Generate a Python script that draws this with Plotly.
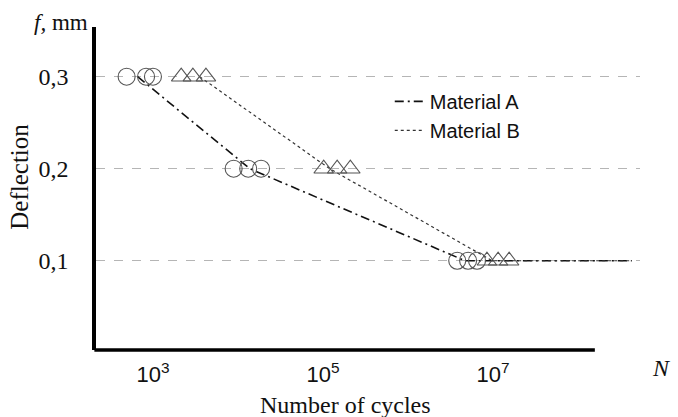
import plotly.graph_objects as go

# ---- data ----
a_cycles = [490, 830, 1000, 8900, 13200, 18700, 3.8e6, 5.1e6, 6.5e6]
a_defl = [0.3, 0.3, 0.3, 0.2, 0.2, 0.2, 0.1, 0.1, 0.1]
b_cycles = [2150, 2950, 4200, 1.02e5, 1.47e5, 2.1e5, 8.5e6, 1.15e7, 1.55e7]
b_defl = [0.3, 0.3, 0.3, 0.2, 0.2, 0.2, 0.1, 0.1, 0.1]
a_curve_N = [660, 13800, 4.7e6, 4.3e8]
a_curve_f = [0.3, 0.2, 0.1, 0.1]
b_curve_N = [3550, 1.2e5, 9.8e6, 4.3e8]
b_curve_f = [0.3, 0.2, 0.1, 0.1]
x_ticks = [1e3, 1e5, 1e7]
x_ticktext = ["10<sup>3</sup>", "10<sup>5</sup>", "10<sup>7</sup>"]
y_ticks = [0.1, 0.2, 0.3]
y_ticktext = ["0,1", "0,2", "0,3"]

SERIF = "Liberation Serif"
SANS = "Liberation Sans"

fig = go.Figure()
fig.add_trace(go.Scatter(x=a_curve_N, y=a_curve_f, mode="lines", name="Material A",
                         legendgroup="a",
                         line=dict(color="#111", width=1.6, dash="9px,4px,2px,4px")))
fig.add_trace(go.Scatter(x=b_curve_N, y=b_curve_f, mode="lines", name="Material B",
                         legendgroup="b",
                         line=dict(color="#333", width=1.2, dash="dot")))
fig.add_trace(go.Scatter(x=a_cycles, y=a_defl, mode="markers", showlegend=False,
                         marker=dict(symbol="circle-open", size=17,
                                     color="#555", line=dict(width=1.1, color="#555"))))
fig.add_trace(go.Scatter(x=b_cycles, y=b_defl, mode="markers", showlegend=False,
                         marker=dict(symbol="triangle-up-open", size=17,
                                     color="#555", line=dict(width=1.1, color="#555"))))

fig.update_layout(
    width=678, height=417,
    margin=dict(l=96, r=38, t=27, b=67),
    paper_bgcolor="white", plot_bgcolor="white",
    showlegend=True,
    legend=dict(x=0.54, y=0.83, xanchor="left", yanchor="top",
                font=dict(family=SANS, size=20, color="#111"),
                bgcolor="rgba(0,0,0,0)", tracegroupgap=0, traceorder="grouped"),
    xaxis=dict(type="log", range=[2.33, 8.73], showgrid=False, zeroline=False,
               showline=False, tickvals=x_ticks, ticktext=x_ticktext,
               ticks="", ticklabelstandoff=9,
               tickfont=dict(family=SANS, size=22, color="#111")),
    yaxis=dict(range=[0.003, 0.354], showgrid=True, gridcolor="#b5b5b5",
               griddash="dash", gridwidth=1, zeroline=False,
               showline=True, linecolor="black", linewidth=3.5,
               tickvals=y_ticks, ticktext=y_ticktext, ticks="",
               ticklabelstandoff=19,
               tickfont=dict(family=SERIF, size=24, color="#111")),
    shapes=[dict(type="line", xref="paper", yref="paper", x0=-0.003, x1=0.917,
                 y0=0, y1=0, line=dict(color="black", width=3.5))],
    annotations=[
        dict(text="<i>f,</i> mm", xref="paper", yref="paper", x=-0.011, y=1.015,
             xanchor="right", yanchor="middle", showarrow=False,
             font=dict(family=SERIF, size=23, color="#111")),
        dict(text="Deflection", xref="paper", yref="paper", x=-0.14, y=0.536,
             xanchor="center", yanchor="middle", textangle=-90, showarrow=False,
             font=dict(family=SERIF, size=25, color="#111")),
        dict(text="Number of cycles", xref="paper", yref="paper", x=0.458, y=-0.17,
             xanchor="center", yanchor="middle", showarrow=False,
             font=dict(family=SERIF, size=24, color="#111")),
        dict(text="<i>N</i>", xref="paper", yref="paper", x=1.04, y=-0.055,
             xanchor="center", yanchor="middle", showarrow=False,
             font=dict(family=SERIF, size=24, color="#111")),
    ],
)

fig.write_html("out.html")
